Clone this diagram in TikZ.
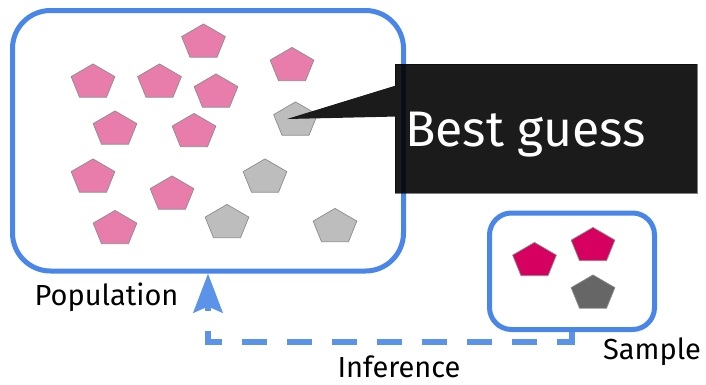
\documentclass[tikz,border=0pt]{standalone}
\usepackage{fontspec}
\setmainfont{Fira Sans}
\usetikzlibrary{shapes.geometric,arrows.meta}
\definecolor{slideblue}{HTML}{4A86E8}
\definecolor{arrowblue}{HTML}{5B93E9}
\definecolor{popink}{HTML}{E87DAC}
\definecolor{popgray}{HTML}{BDBDBD}
\definecolor{sampred}{HTML}{D5005F}
\definecolor{sampgray}{HTML}{666666}
\definecolor{calloutbg}{HTML}{1B1B1B}
\tikzset{penta/.style={regular polygon,regular polygon sides=5,minimum size=46pt,inner sep=0pt,draw=black!45,line width=0.7pt,yscale=0.8}}
\tikzset{pinkp/.style={penta,fill=popink},greyp/.style={penta,fill=popgray}}
\tikzset{redp/.style={penta,fill=sampred},darkp/.style={penta,fill=sampgray}}
\tikzset{framebox/.style={draw=slideblue,line width=5pt,rectangle,inner sep=0pt}}
\tikzset{lbl/.style={inner sep=0pt,font=\fontsize{29}{34}\selectfont}}
\tikzset{inferarrow/.style={draw=arrowblue,line width=6pt,dash pattern=on 25pt off 20pt,-{Stealth[length=39pt,width=29pt,inset=6pt]}}}

\begin{document}
\begin{tikzpicture}[x=1pt,y=-1pt]
    \useasboundingbox (0,0) rectangle (706,384);
    \node[framebox,minimum width=391pt,minimum height=260.5pt,rounded corners=38pt] (pop) at (208,140.75) {};
    \node[framebox,minimum width=165pt,minimum height=116.5pt,rounded corners=22pt] (samp) at (572,271.25) {};
    \node[pinkp] (p1) at (203.5,42.3) {};
    \node[pinkp] (p2) at (292,65.8) {};
    \node[pinkp] (p3) at (93,82.3) {};
    \node[pinkp] (p4) at (159.5,82.3) {};
    \node[pinkp] (p5) at (216,92.3) {};
    \node[pinkp] (p6) at (115,129.3) {};
    \node[pinkp] (p7) at (194,131.8) {};
    \node[pinkp] (p8) at (93,177.3) {};
    \node[pinkp] (p9) at (172,194.3) {};
    \node[pinkp] (p10) at (115,228.8) {};
    \node[greyp] (g1) at (295.5,120.3) {};
    \node[greyp] (g2) at (265,177.3) {};
    \node[greyp] (g3) at (227,222.8) {};
    \node[greyp] (g4) at (335,226.8) {};
    \node[redp] (s1) at (534.5,260.8) {};
    \node[redp] (s2) at (593,245.8) {};
    \node[darkp] (s3) at (593,293.3) {};
    \node[rectangle,fill=calloutbg,draw=black!50,line width=0.8pt,blend mode=multiply,minimum width=302pt,minimum height=129pt] (guess) at (546,128.5) {};
    \coordinate (tip) at (287,119);
    \fill[calloutbg] (tip) -- (397.5,85) -- (397.5,116.5) -- cycle;
    \node[lbl,text=white,font=\fontsize{50}{58}\selectfont,anchor=base west] (guesstxt) at (405,146.7) {Best guess};
    \draw[inferarrow] (samp.south) -- ++(0,10) -| (pop.south);
    \node[lbl,anchor=base west] (poplbl) at (34.5,305.7) {Population};
    \node[lbl,anchor=base] (inflbl) at (399,377) {Inference};
    \node[lbl,anchor=base] (samplbl) at (652,359) {Sample};
\end{tikzpicture}
\end{document}
